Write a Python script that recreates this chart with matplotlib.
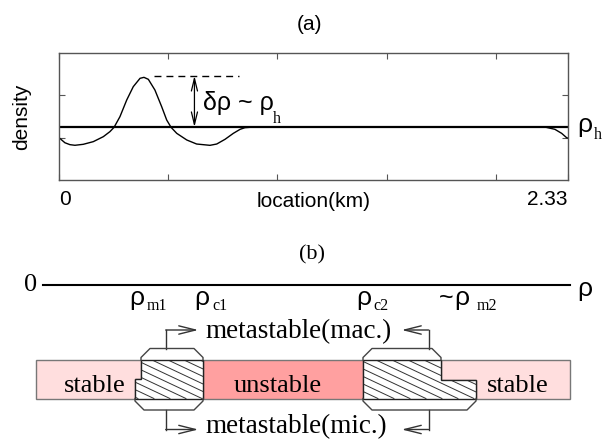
import numpy as np
import matplotlib.pyplot as plt
from matplotlib.patches import Polygon

SANS = 'Liberation Sans'
SERIF = 'Liberation Serif'

# panel (a): density profile
loc_km = [0.0, 0.027, 0.050, 0.073, 0.111, 0.157, 0.203, 0.233, 0.252, 0.279,
          0.310, 0.340, 0.371, 0.389, 0.409, 0.439, 0.470, 0.493, 0.513, 0.539,
          0.585, 0.630, 0.691, 0.722, 0.760, 0.798, 0.829, 0.851, 0.889,
          2.225, 2.270, 2.301, 2.324, 2.33]
density = [1.00, 0.88, 0.835, 0.82, 0.843, 0.906, 1.024, 1.142, 1.244, 1.496,
           1.890, 2.205, 2.402, 2.425, 2.378, 2.126, 1.732, 1.417, 1.244, 1.102,
           0.945, 0.850, 0.819, 0.850, 0.961, 1.102, 1.197, 1.236, 1.25,
           1.25, 1.197, 1.102, 0.998, 0.99]
rho_h = 1.25
peak_level = 2.46
x_max = 2.33
x_ticks = [0, 0.5, 1.0, 1.5, 2.0, 2.33]
x_tick_labels = ['0', '', '', '', '', '2.33']
y_ticks = [1, 2]

# panel (b): schematic along the density axis, in figure pixels
axis_y = 285
axis_x = [43, 570]
rho_x = [137, 202, 363.5, 461.7]
sub_x = [147, 212, 373, 477]
rho_subs = ['m1', 'c1', 'c2', 'm2']
rho_prefix = ['', '', '', '~']
bar_y = [360, 398.5]
bar_x = [36, 570]
meta1_x = [141, 135, 203]    # top-left edge, bottom-left edge, right edge
meta2_x = [363, 441, 476]    # left edge, top-right edge, bottom-right edge
notch_y = [379, 380]
region_names = ['stable', 'unstable', 'stable']
region_text_x = [95, 278, 518]
stem_x = [165.7, 428.5]
arrow_tip_x = [198.3, 401.7]


def sub_label(ax, x, y, main, sub, sub_left, drop, size=19, subsize=11.5):
    ax.text(x, y, main, ha='center', va='baseline', fontsize=size, family=SANS)
    ax.text(sub_left, y + drop, sub, ha='left', va='baseline', fontsize=subsize, family=SERIF)


def bracket(ax, x0, x1, y_edge, up):
    d = -1 if up else 1
    xs = [x0, x0, x0 + 9, x1 - 9, x1, x1]
    ys = [y_edge, y_edge + d * 2.5, y_edge + d * 11.5, y_edge + d * 11.5, y_edge + d * 2.5, y_edge]
    ax.plot(xs, ys, color='#444', lw=1, zorder=4)


def bent_arrow(ax, xs, y_from, y_to, x_tip):
    ax.plot([xs, xs], [y_from, y_to], color='#333', lw=1)
    ax.annotate('', xy=(x_tip, y_to), xytext=(xs, y_to),
                arrowprops=dict(arrowstyle='->,head_length=1.2,head_width=0.3',
                                lw=1, color='#333', shrinkA=0, shrinkB=0,
                                mutation_scale=10))


W, H = 615, 441
fig = plt.figure(figsize=(W / 100, H / 100), dpi=100)

# full-figure layer for the schematic and free text
axb = fig.add_axes([0, 0, 1, 1])
axb.set_xlim(0, W)
axb.set_ylim(H, 0)
axb.axis('off')

# ---------------- panel (a)
ax = fig.add_axes([59 / W, 1 - 180 / H, 509 / W, 127 / H])
ax.set_facecolor('none')
ax.plot(loc_km, density, color='black', lw=1.0)
ax.axhline(rho_h, color='black', lw=1.6)
ax.set_xlim(0, x_max)
ax.set_ylim(0, 3)
ax.set_xticks(x_ticks)
ax.set_xticklabels(x_tick_labels, family=SANS, fontsize=15)
ax.set_yticks(y_ticks)
ax.set_yticklabels([])
ax.tick_params(direction='in', top=True, right=True, length=4, width=0.8,
               color='#555', pad=7)
for s in ax.spines.values():
    s.set_color('#555')
    s.set_linewidth(1)
lbls = ax.get_xticklabels()
lbls[0].set_ha('left')
lbls[-1].set_ha('right')
ax.text(0.5, -27 / 127, 'location(km)', transform=ax.transAxes, ha='center',
        va='baseline', fontsize=15, family=SANS)

ax.plot([0.437, 0.823], [peak_level, peak_level], color='black', lw=1,
        dashes=(5, 3.6))
ax.annotate('', xy=(0.62, peak_level), xytext=(0.62, rho_h),
            arrowprops=dict(arrowstyle='<->,head_length=0.9,head_width=0.22',
                            lw=0.9, color='black', shrinkA=0, shrinkB=0,
                            mutation_scale=10))

axb.text(310, 25, '(a)', ha='center', va='center', fontsize=15, family=SANS)
axb.text(22, 117, 'density', ha='center', va='center', rotation=90,
         fontsize=15, family=SANS)
sub_label(axb, 238, 110, 'δρ ~ ρ', 'h', 273, 13, size=18)
sub_label(axb, 585, 132, 'ρ', 'h', 594, 7)

# ---------------- panel (b)
axb.text(312, 255, '(b)', ha='center', va='center', fontsize=16, family=SERIF)
axb.plot(axis_x, [axis_y, axis_y], color='black', lw=1.5)
axb.text(31, axis_y, '0', ha='center', va='center', fontsize=19, family=SERIF)
axb.text(585, axis_y + 4, 'ρ', ha='center', va='center', fontsize=19, family=SANS)
for rx, sx, sub, pre in zip(rho_x, sub_x, rho_subs, rho_prefix):
    sub_label(axb, rx, 305, 'ρ', sub, sx, 5)
    if pre:
        axb.text(rx - 8, 305, pre, ha='right', va='baseline', fontsize=18, family=SANS)

y0, y1 = bar_y
stable_l = [(bar_x[0], y0), (meta1_x[0], y0), (meta1_x[0], notch_y[0]),
            (meta1_x[1], notch_y[0]), (meta1_x[1], y1), (bar_x[0], y1)]
meta_l = [(meta1_x[0], y0), (meta1_x[2], y0), (meta1_x[2], y1),
          (meta1_x[1], y1), (meta1_x[1], notch_y[0]), (meta1_x[0], notch_y[0])]
unstable = [(meta1_x[2], y0), (meta2_x[0], y0), (meta2_x[0], y1), (meta1_x[2], y1)]
meta_r = [(meta2_x[0], y0), (meta2_x[1], y0), (meta2_x[1], notch_y[1]),
          (meta2_x[2], notch_y[1]), (meta2_x[2], y1), (meta2_x[0], y1)]
stable_r = [(meta2_x[1], y0), (bar_x[1], y0), (bar_x[1], y1), (meta2_x[2], y1),
            (meta2_x[2], notch_y[1]), (meta2_x[1], notch_y[1])]

for poly, fc in ((stable_l, '#ffdede'), (stable_r, '#ffdede'), (unstable, '#ffa0a0')):
    axb.add_patch(Polygon(poly, closed=True, facecolor=fc, edgecolor='#777', lw=1, zorder=2))

hatch_slope = 0.47
for poly in (meta_l, meta_r):
    patch = Polygon(poly, closed=True, facecolor='white', edgecolor='none', zorder=2)
    axb.add_patch(patch)
    for x0 in np.arange(40, 490, 16):
        ln, = axb.plot([x0, x0 + (y1 - y0) / hatch_slope], [y0, y1],
                       color='#333', lw=0.7, zorder=2.5)
        ln.set_clip_path(patch)
    axb.add_patch(Polygon(poly, closed=True, facecolor='none', edgecolor='#222',
                          lw=1, zorder=3))

for name, tx in zip(region_names, region_text_x):
    axb.text(tx, 392.5, name, ha='center', va='baseline', fontsize=19,
             family=SERIF, zorder=5)

bracket(axb, meta1_x[0], meta1_x[2], y0, True)
bracket(axb, meta1_x[1], meta1_x[2], y1, False)
bracket(axb, meta2_x[0], meta2_x[1], y0, True)
bracket(axb, meta2_x[0], meta2_x[2], y1, False)

bent_arrow(axb, stem_x[0], y0 - 11.5, 330, arrow_tip_x[0])
bent_arrow(axb, stem_x[1], y0 - 11.5, 330, arrow_tip_x[1])
bent_arrow(axb, stem_x[0], y1 + 11.5, 429.5, arrow_tip_x[0])
bent_arrow(axb, stem_x[1], y1 + 11.5, 429.5, arrow_tip_x[1])

axb.text(205, 338, 'metastable(mac.)', ha='left', va='baseline', fontsize=19.5,
         family=SERIF)
axb.text(205, 433, 'metastable(mic.)', ha='left', va='baseline', fontsize=19.5,
         family=SERIF)

fig.savefig('out.png', dpi=100)
